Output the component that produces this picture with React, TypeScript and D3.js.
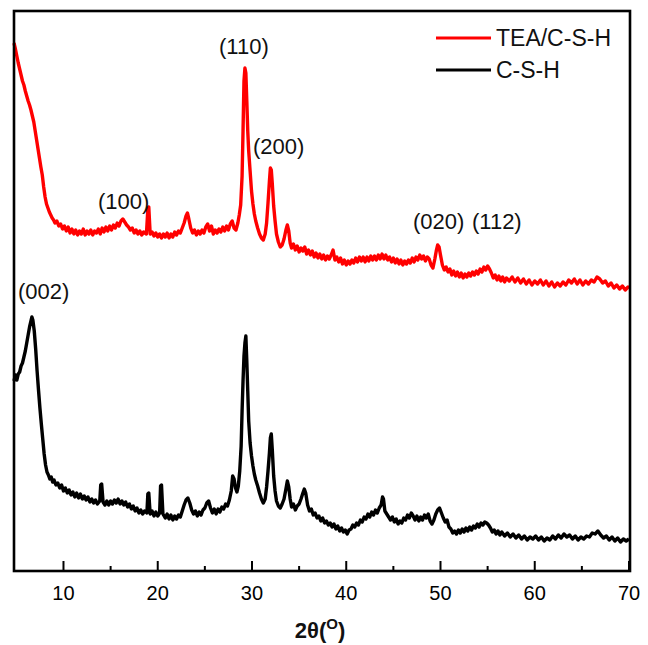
import React from 'react';
import * as d3 from 'd3';

const majorTicks = [10, 20, 30, 40, 50, 60, 70];
const minorTicks = [15, 25, 35, 45, 55, 65];
const seriesNames = ['TEA/C-S-H', 'C-S-H'];
const seriesColors = ['#ff0000', '#000000'];

// TEA/C-S-H (red), [2theta, intensity a.u.]
const teaCsh: [number, number][] = [
  [4.75,528],[4.9,522],[5.05,515],[5.2,508],[5.35,502],[5.5,496],[5.65,490],[5.8,486],[5.95,480],[6.1,475],
  [6.25,470],[6.4,466],[6.55,461],[6.7,455],[6.85,449],[7.0,440],[7.15,431],[7.3,422],[7.45,413],[7.6,404],
  [7.75,396],[7.9,384],[8.05,374],[8.2,367],[8.35,363],[8.5,359],[8.65,356],[8.8,353],[8.95,351],[9.1,348],
  [9.3,350],[9.5,345],[9.7,347],[9.9,342],[10.1,345],[10.3,340],[10.5,344],[10.7,338],[10.9,342],[11.1,337],
  [11.3,341],[11.5,336],[11.7,340],[11.9,337],[12.1,342],[12.3,336],[12.5,340],[12.7,337],[12.9,341],[13.1,336],
  [13.3,340],[13.5,338],[13.7,342],[13.9,337],[14.1,343],[14.3,339],[14.5,344],[14.7,340],[14.9,345],[15.1,341],
  [15.3,346],[15.5,343],[15.7,348],[15.9,345],[16.1,350],[16.3,352],[16.5,349],[16.7,346],[16.9,344],[17.1,341],
  [17.3,343],[17.5,338],[17.7,341],[17.9,337],[18.1,340],[18.3,336],[18.5,339],[18.8,337],[18.95,362],[19.05,364],
  [19.2,337],[19.4,339],[19.6,335],[19.8,338],[20.0,334],[20.2,337],[20.4,333],[20.6,337],[20.8,334],[21.0,338],
  [21.2,333],[21.4,337],[21.6,334],[21.8,339],[22.0,336],[22.2,340],[22.4,338],[22.6,343],[22.8,348],[23.0,355],
  [23.15,358],[23.3,352],[23.5,343],[23.7,338],[23.9,341],[24.1,336],[24.3,340],[24.5,337],[24.7,341],[24.9,338],
  [25.1,344],[25.3,347],[25.5,340],[25.7,345],[25.9,337],[26.1,341],[26.3,338],[26.5,342],[26.7,339],[26.9,344],
  [27.1,340],[27.3,345],[27.5,341],[27.7,347],[27.9,350],[28.1,343],[28.3,341],[28.5,348],[28.65,356],[28.8,366],
  [28.95,395],[29.05,440],[29.15,490],[29.25,503],[29.35,498],[29.45,470],[29.55,440],[29.65,420],[29.8,400],[29.95,380],
  [30.1,367],[30.25,357],[30.4,350],[30.6,343],[30.8,337],[31.0,333],[31.2,331],[31.4,337],[31.55,348],[31.7,368],
  [31.85,390],[31.95,403],[32.05,401],[32.15,388],[32.3,365],[32.45,350],[32.6,337],[32.8,329],[33.0,324],[33.2,326],
  [33.4,332],[33.6,341],[33.75,346],[33.9,340],[34.05,328],[34.2,323],[34.4,327],[34.6,321],[34.8,325],[35.0,319],
  [35.2,323],[35.4,320],[35.6,324],[35.8,317],[36.0,321],[36.2,316],[36.4,320],[36.6,314],[36.8,318],[37.0,313],
  [37.2,317],[37.4,312],[37.6,316],[37.8,311],[38.0,315],[38.2,312],[38.4,316],[38.6,321],[38.8,311],[39.0,314],
  [39.2,309],[39.4,313],[39.6,307],[39.8,311],[40.0,306],[40.2,310],[40.4,307],[40.6,311],[40.8,308],[41.0,313],
  [41.2,309],[41.4,314],[41.6,310],[41.8,314],[42.0,309],[42.2,314],[42.4,310],[42.6,315],[42.8,311],[43.0,315],
  [43.2,311],[43.4,316],[43.6,312],[43.8,317],[44.0,312],[44.2,316],[44.4,311],[44.6,314],[44.8,309],[45.0,313],
  [45.2,308],[45.4,312],[45.6,307],[45.8,311],[46.0,306],[46.2,310],[46.4,307],[46.6,311],[46.8,308],[47.0,313],
  [47.2,309],[47.4,314],[47.6,311],[47.8,316],[48.0,312],[48.2,315],[48.4,310],[48.6,314],[48.8,312],[49.0,306],
  [49.2,303],[49.4,312],[49.55,320],[49.7,326],[49.85,324],[50.0,316],[50.2,306],[50.4,301],[50.6,304],[50.8,299],
  [51.0,302],[51.2,296],[51.4,300],[51.6,295],[51.8,299],[52.0,294],[52.2,298],[52.4,293],[52.6,297],[52.8,294],
  [53.0,298],[53.2,295],[53.4,299],[53.6,296],[53.8,300],[54.0,297],[54.2,302],[54.4,299],[54.6,304],[54.8,301],
  [55.0,305],[55.2,302],[55.4,298],[55.6,293],[55.8,296],[56.0,291],[56.2,295],[56.4,290],[56.6,294],[56.8,289],
  [57.0,293],[57.3,290],[57.6,294],[57.9,289],[58.2,293],[58.5,288],[58.8,292],[59.1,287],[59.4,291],[59.7,286],
  [60.0,290],[60.3,287],[60.6,291],[60.9,286],[61.2,290],[61.5,285],[61.8,289],[62.1,284],[62.4,288],[62.7,285],
  [63.0,289],[63.3,286],[63.6,291],[63.9,288],[64.2,292],[64.5,287],[64.8,291],[65.1,286],[65.4,290],[65.7,287],
  [66.0,291],[66.3,289],[66.6,294],[66.9,292],[67.2,288],[67.5,290],[67.8,285],[68.1,288],[68.4,283],[68.7,286],
  [69.0,282],[69.3,285],[69.6,281],[69.9,284],[70.0,283],
];

// C-S-H (black), [2theta, intensity a.u.]
const csh: [number, number][] = [
  [4.75,190],[4.9,196],[5.05,191],[5.2,197],[5.35,199],[5.5,205],[5.65,208],[5.8,214],[5.95,220],[6.1,228],
  [6.25,236],[6.4,244],[6.55,250],[6.65,254],[6.75,251],[6.9,240],[7.05,222],[7.2,200],[7.35,181],[7.5,163],
  [7.65,147],[7.8,132],[7.95,117],[8.1,106],[8.25,99],[8.4,96],[8.55,92],[8.7,94],[8.85,89],[9.0,91],
  [9.2,86],[9.4,88],[9.6,83],[9.8,86],[10.0,80],[10.2,83],[10.4,78],[10.6,81],[10.8,76],[11.0,79],
  [11.2,74],[11.4,78],[11.6,73],[11.8,77],[12.0,72],[12.2,75],[12.4,71],[12.6,74],[12.8,69],[13.0,72],
  [13.2,68],[13.4,71],[13.6,67],[13.85,70],[13.95,86],[14.05,87],[14.2,69],[14.4,66],[14.6,70],[14.8,66],
  [15.0,70],[15.2,67],[15.4,71],[15.6,68],[15.8,72],[16.0,67],[16.2,70],[16.4,66],[16.6,69],[16.8,64],
  [17.0,67],[17.2,62],[17.4,65],[17.6,60],[17.8,63],[18.0,58],[18.2,61],[18.4,57],[18.6,60],[18.85,58],
  [18.95,77],[19.05,78],[19.2,57],[19.4,60],[19.6,55],[19.8,59],[20.0,55],[20.2,58],[20.3,85],[20.4,86],
  [20.55,57],[20.8,53],[21.0,57],[21.2,52],[21.4,56],[21.6,51],[21.8,55],[22.0,52],[22.2,56],[22.4,54],
  [22.6,60],[22.8,66],[23.0,71],[23.2,73],[23.4,68],[23.6,61],[23.8,57],[24.0,60],[24.2,55],[24.4,59],
  [24.6,56],[24.8,61],[25.0,63],[25.2,68],[25.4,70],[25.6,63],[25.8,58],[26.0,62],[26.2,57],[26.4,62],
  [26.6,59],[26.8,64],[27.0,62],[27.2,67],[27.4,65],[27.6,71],[27.8,80],[27.95,95],[28.1,92],[28.25,83],
  [28.4,79],[28.55,85],[28.7,100],[28.85,125],[28.95,160],[29.05,190],[29.15,215],[29.25,228],[29.35,235],[29.45,210],
  [29.55,180],[29.65,150],[29.8,128],[29.95,115],[30.1,105],[30.25,97],[30.4,91],[30.6,85],[30.8,78],[31.0,72],
  [31.2,68],[31.4,72],[31.55,84],[31.7,100],[31.85,118],[31.95,133],[32.05,137],[32.15,122],[32.3,95],[32.45,80],
  [32.6,70],[32.8,65],[33.0,63],[33.2,67],[33.4,72],[33.6,82],[33.75,90],[33.9,84],[34.05,72],[34.2,64],
  [34.4,67],[34.6,61],[34.8,65],[35.0,67],[35.2,72],[35.4,78],[35.55,82],[35.7,78],[35.9,66],[36.1,60],
  [36.3,62],[36.5,56],[36.7,58],[36.9,53],[37.1,55],[37.3,50],[37.5,53],[37.7,48],[37.9,50],[38.1,46],
  [38.3,48],[38.5,44],[38.7,47],[38.9,42],[39.1,45],[39.3,40],[39.5,43],[39.7,39],[39.9,41],[40.1,37],
  [40.3,41],[40.5,42],[40.7,46],[40.9,44],[41.1,48],[41.3,46],[41.5,51],[41.7,49],[41.9,54],[42.1,52],
  [42.3,57],[42.5,54],[42.7,59],[42.9,56],[43.1,61],[43.3,58],[43.5,63],[43.7,66],[43.85,74],[43.95,72],
  [44.1,60],[44.3,57],[44.5,54],[44.7,51],[44.9,54],[45.1,49],[45.3,52],[45.5,47],[45.7,50],[45.9,48],
  [46.1,53],[46.3,51],[46.5,56],[46.7,53],[46.9,58],[47.1,55],[47.3,51],[47.5,55],[47.7,50],[47.9,54],
  [48.1,51],[48.3,56],[48.5,53],[48.7,57],[48.9,50],[49.1,47],[49.3,51],[49.5,57],[49.7,61],[49.9,63],
  [50.1,58],[50.3,53],[50.5,49],[50.7,51],[50.9,44],[51.1,42],[51.3,38],[51.5,40],[51.7,37],[51.9,41],
  [52.1,38],[52.3,42],[52.5,39],[52.7,43],[52.9,40],[53.1,44],[53.3,41],[53.5,45],[53.7,43],[53.9,47],
  [54.1,44],[54.3,48],[54.5,46],[54.7,49],[54.9,48],[55.1,46],[55.3,43],[55.5,39],[55.7,41],[55.9,37],
  [56.1,40],[56.3,36],[56.5,39],[56.8,35],[57.1,38],[57.4,34],[57.7,37],[58.0,33],[58.3,36],[58.6,32],
  [58.9,35],[59.2,31],[59.5,34],[59.8,32],[60.1,35],[60.4,31],[60.7,34],[61.0,30],[61.3,33],[61.6,31],
  [61.9,35],[62.2,32],[62.5,36],[62.8,33],[63.1,37],[63.4,34],[63.7,36],[64.0,32],[64.3,35],[64.6,31],
  [64.9,34],[65.2,32],[65.5,35],[65.8,34],[66.1,38],[66.4,37],[66.7,40],[67.0,36],[67.3,33],[67.6,35],
  [67.9,31],[68.2,34],[68.5,30],[68.8,33],[69.1,29],[69.4,32],[69.7,30],[70.0,32],
];

// peak annotations: label, 2theta at text start, intensity at text baseline
const peakLabelTexts = ['(110)', '(200)', '(100)', '(020)', '(112)', '(002)'];
const peakLabelX = [26.5, 30.1, 13.66, 47.08, 53.34, 5.17];
const peakLabelY = [517, 417, 362, 342, 342, 272];

const W = 648;
const H = 645;
const left = 14, right = 629, top = 11, bottom = 571;
const FONT = '"Liberation Sans", Arial, Helvetica, sans-serif';

export default function App() {
  const x = d3.scaleLinear().domain([4.75, 70]).range([left, right]);
  const y = d3.scaleLinear().domain([0, 560]).range([bottom, top]);
  const line = d3
    .line<[number, number]>()
    .x((d) => x(d[0]))
    .y((d) => y(d[1]));
  const series = [teaCsh, csh];

  return (
    <svg
      width={W}
      height={H}
      style={{ position: 'absolute', left: 0, top: 0, background: '#fff' }}
      fontFamily={FONT}
    >
      <rect x={0} y={0} width={W} height={H} fill="#fff" />
      {series.map((s, i) => (
        <path
          key={i}
          d={line(s) || ''}
          fill="none"
          stroke={seriesColors[i]}
          strokeWidth={3.4}
          strokeLinejoin="round"
        />
      ))}
      {/* ticks */}
      {majorTicks.map((t) => (
        <g key={'M' + t}>
          <line x1={x(t)} x2={x(t)} y1={bottom} y2={bottom - 10} stroke="#000" strokeWidth={2} />
          <text x={x(t)} y={600} fontSize={20} textAnchor="middle" fill="#000">
            {t}
          </text>
        </g>
      ))}
      {minorTicks.map((t) => (
        <line key={'m' + t} x1={x(t)} x2={x(t)} y1={bottom} y2={bottom - 5} stroke="#000" strokeWidth={2} />
      ))}
      {/* frame */}
      <rect
        x={left}
        y={top}
        width={right - left + 1}
        height={bottom - top}
        fill="none"
        stroke="#000"
        strokeWidth={2.6}
      />
      {/* peak labels */}
      {peakLabelTexts.map((t, i) => (
        <text key={t} x={x(peakLabelX[i])} y={y(peakLabelY[i])} fontSize={22} fill="#111">
          {t}
        </text>
      ))}
      {/* legend */}
      {seriesNames.map((n, i) => (
        <g key={n}>
          <line x1={436} x2={491} y1={38 + i * 32} y2={38 + i * 32} stroke={seriesColors[i]} strokeWidth={3} />
          <text x={496} y={46 + i * 32} fontSize={23} fill="#111">
            {n}
          </text>
        </g>
      ))}
      {/* axis title */}
      <text x={320} y={638} fontSize={22} fontWeight="bold" textAnchor="middle" fill="#111">
        2θ(
        <tspan fontSize={15} dy={-9}>
          O
        </tspan>
        <tspan dy={9}>)</tspan>
      </text>
    </svg>
  );
}
